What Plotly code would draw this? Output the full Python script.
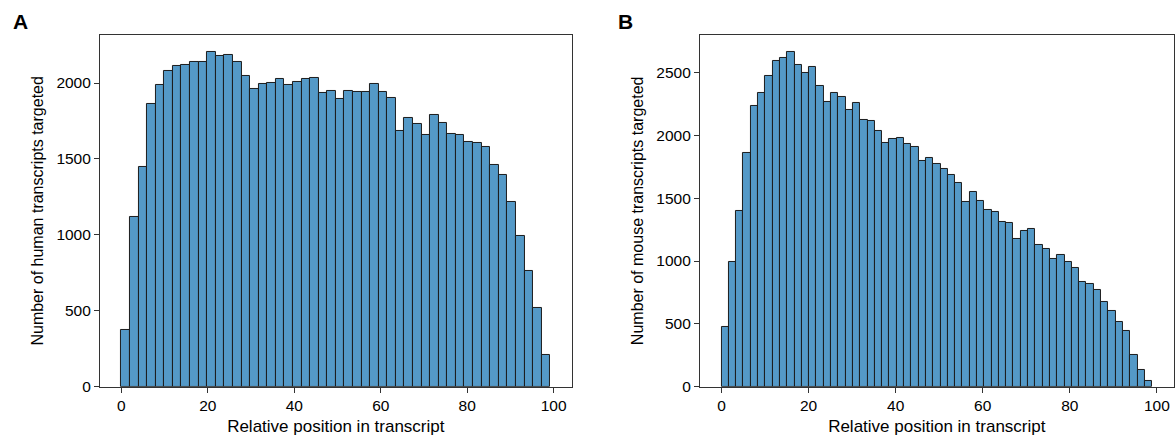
import numpy as np
import plotly.graph_objects as go

# ---- data ----
human_counts = [375, 1115, 1449, 1862, 1987, 2081, 2112, 2118, 2136, 2136,
                2206, 2176, 2183, 2136, 2044, 1960, 1993, 2000, 2024, 1987,
                2004, 2024, 2031, 1932, 1949, 1893, 1947, 1938, 1938, 1993,
                1938, 1899, 1686, 1767, 1728, 1655, 1787, 1734, 1662, 1655,
                1609, 1603, 1578, 1460, 1392, 1214, 990, 762, 516, 209]
human_range = [0, 99.2]

mouse_counts = [478, 990, 1401, 1863, 2235, 2336, 2471, 2591, 2615, 2665,
                2556, 2495, 2545, 2393, 2264, 2336, 2304, 2203, 2259, 2121,
                2113, 2033, 1938, 1970, 1978, 1930, 1908, 1794, 1818, 1771,
                1736, 1688, 1619, 1468, 1553, 1481, 1407, 1393, 1314, 1306,
                1173, 1242, 1258, 1128, 1096, 1014, 1046, 993, 947, 831,
                815, 767, 672, 605, 513, 446, 250, 136, 43]
mouse_range = [0, 98.9]

x_ticks = [0, 20, 40, 60, 80, 100]
human_yticks = [0, 500, 1000, 1500, 2000]
mouse_yticks = [0, 500, 1000, 1500, 2000, 2500]

x_title = "Relative position in transcript"
human_ytitle = "Number of human transcripts targeted"
mouse_ytitle = "Number of mouse transcripts targeted"


def bins(counts, rng):
    n = len(counts)
    w = (rng[1] - rng[0]) / n
    centers = rng[0] + w * (np.arange(n) + 0.5)
    return centers, w


FONT = "Arial, 'Liberation Sans', sans-serif"
BAR_COLOR = "#5499c7"
EDGE = "#1c1c1c"

fig = go.Figure()
hx, hw = bins(human_counts, human_range)
mx, mw = bins(mouse_counts, mouse_range)

fig.add_trace(go.Bar(x=hx, y=human_counts, width=hw, xaxis="x", yaxis="y",
                     marker=dict(color=BAR_COLOR, line=dict(color=EDGE, width=1)),
                     showlegend=False))
fig.add_trace(go.Bar(x=mx, y=mouse_counts, width=mw, xaxis="x2", yaxis="y2",
                     marker=dict(color=BAR_COLOR, line=dict(color=EDGE, width=1)),
                     showlegend=False))

axis_common = dict(showgrid=False, zeroline=False, showline=True, mirror=True,
                   automargin=False,
                   linecolor="#333333", linewidth=1, ticks="outside", ticklen=5,
                   tickwidth=1, tickcolor="#333333",
                   tickfont=dict(family=FONT, size=15.5, color="#000"))

h_pad = 0.05 * (human_range[1] - human_range[0])
m_pad = 0.05 * (mouse_range[1] - mouse_range[0])

XT = dict(family=FONT, size=17)
YT = dict(family=FONT, size=16)

fig.update_layout(
    width=1176, height=440,
    margin=dict(l=0, r=0, t=0, b=0, autoexpand=False),
    paper_bgcolor="white", plot_bgcolor="white",
    bargap=0,
    font=dict(family=FONT, color="#000"),
    xaxis=dict(domain=[0.0850, 0.4861], anchor="y",
               range=[human_range[0] - h_pad, human_range[1] + h_pad],
               tickvals=x_ticks,
               title=dict(text=x_title, font=XT, standoff=6),
               **axis_common),
    yaxis=dict(domain=[0.1211, 0.9205], anchor="x",
               range=[0, max(human_counts) * 1.05],
               tickvals=human_yticks,
               title=dict(text=human_ytitle, font=YT, standoff=8),
               **axis_common),
    xaxis2=dict(domain=[0.5952, 0.9980], anchor="y2",
                range=[mouse_range[0] - m_pad, mouse_range[1] + m_pad],
                tickvals=x_ticks,
                title=dict(text=x_title, font=XT, standoff=6),
                **axis_common),
    yaxis2=dict(domain=[0.1211, 0.9205], anchor="x2",
                range=[0, max(mouse_counts) * 1.05],
                tickvals=mouse_yticks,
                title=dict(text=mouse_ytitle, font=YT, standoff=8),
                **axis_common),
    annotations=[
        dict(text="<b>A</b>", x=11 / 1176, y=1 - 21 / 440, xref="paper", yref="paper",
             xanchor="left", yanchor="middle", showarrow=False,
             font=dict(family=FONT, size=21, color="#000")),
        dict(text="<b>B</b>", x=616 / 1176, y=1 - 21 / 440, xref="paper", yref="paper",
             xanchor="left", yanchor="middle", showarrow=False,
             font=dict(family=FONT, size=21, color="#000")),
    ],
)

fig.write_html("out.html")
